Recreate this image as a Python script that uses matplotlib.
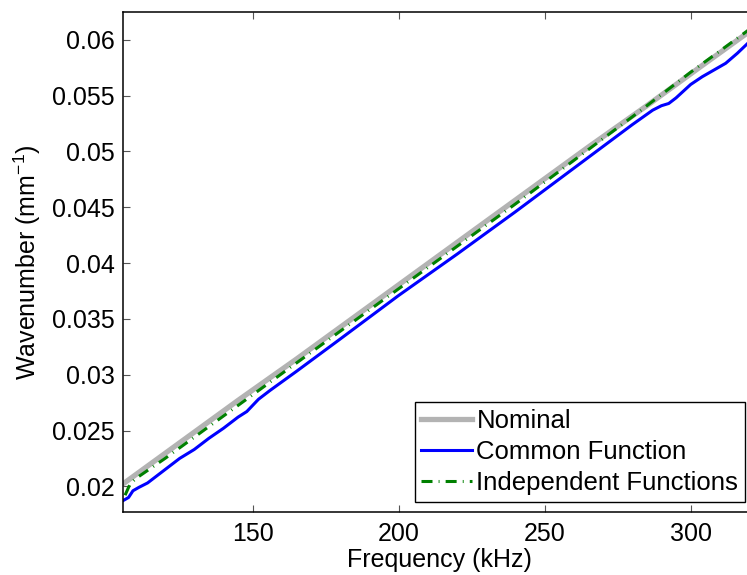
import matplotlib
matplotlib.use("Agg")
import matplotlib.pyplot as plt

plt.rcParams['font.family'] = ['Liberation Sans', 'DejaVu Sans']
plt.rcParams['mathtext.fontset'] = 'custom'
plt.rcParams['mathtext.rm'] = 'Liberation Sans'
plt.rcParams['mathtext.it'] = 'Liberation Sans'

# nominal dispersion curve (kHz, 1/mm)
freq_nominal = [105, 125, 145, 165, 185, 205, 225, 245, 265, 285, 305, 322]
k_nominal = [0.0201, 0.0239, 0.0277, 0.0314, 0.0352, 0.0390,
             0.0428, 0.0466, 0.0504, 0.0541, 0.0579, 0.0611]

# estimate with one common function
freq_common = [105.5, 107.5, 109, 111, 114, 117, 120, 125, 130, 135, 140, 145,
               148, 152, 156, 165, 180, 200, 220, 240, 260, 280, 287, 290,
               292.5, 295, 300, 304, 308, 312, 316, 320, 322]
k_common = [0.0187, 0.0190, 0.0196, 0.0199, 0.0203, 0.0209, 0.0215, 0.0225,
            0.0233, 0.0243, 0.0252, 0.0262, 0.0267, 0.0278, 0.0286, 0.0303,
            0.0332, 0.0371, 0.0408, 0.0446, 0.0485, 0.0524, 0.0537, 0.0541,
            0.0543, 0.0548, 0.0560, 0.0567, 0.0573, 0.0579, 0.0588, 0.0598,
            0.0602]

# estimate with independent functions
freq_indep = [106.3, 108, 110, 120, 140, 160, 180, 200, 220, 240, 260, 280,
              300, 310, 322]
k_indep = [0.0192, 0.0202, 0.0207, 0.0225, 0.0263, 0.0301, 0.0339, 0.0377,
           0.0415, 0.0453, 0.0492, 0.0531, 0.0571, 0.0590, 0.0613]

xticks = [150, 200, 250, 300]
yticks = [0.02, 0.025, 0.03, 0.035, 0.04, 0.045, 0.05, 0.055, 0.06]
ytick_labels = ['0.02', '0.025', '0.03', '0.035', '0.04', '0.045', '0.05', '0.055', '0.06']

fig = plt.figure(figsize=(7.47, 5.75), dpi=100)
ax = fig.add_axes([0.1643, 0.1096, 0.8478, 0.8696])

ax.plot(freq_nominal, k_nominal, color='#b3b3b3', lw=3.8, label='Nominal')
ax.plot(freq_common, k_common, color='#0000ff', lw=2.2, label='Common Function')
ax.plot(freq_indep, k_indep, color='#008000', lw=2.2, dashes=(3.6, 2.0, 0.3, 2.0),
        label='Independent Functions')

ax.set_xlim(105.5, 322.4)
ax.set_ylim(0.0177, 0.0625)
ax.set_xticks(xticks)
ax.set_yticks(yticks)
ax.set_yticklabels(ytick_labels)

ax.tick_params(direction='in', length=5, width=0.8, color='#555555',
               labelsize=18, top=True, right=True)
ax.tick_params(axis='x', pad=7)
ax.tick_params(axis='y', pad=6)
for s in ax.spines.values():
    s.set_linewidth(1.1)

ax.set_xlabel('Frequency (kHz)', fontsize=18, labelpad=2)
ax.set_ylabel('Wavenumber (mm$^{-1}$)', fontsize=18, labelpad=6)

leg = ax.legend(loc='lower right', bbox_to_anchor=(0.9984, 0.0), fontsize=18.5,
                fancybox=False, framealpha=1, edgecolor='black',
                handlelength=2.0, handletextpad=0.16, labelspacing=0.28,
                borderaxespad=0.4, borderpad=0.25, handleheight=0.7)
leg.get_frame().set_linewidth(1.0)

fig.savefig('out.png', dpi=100)
